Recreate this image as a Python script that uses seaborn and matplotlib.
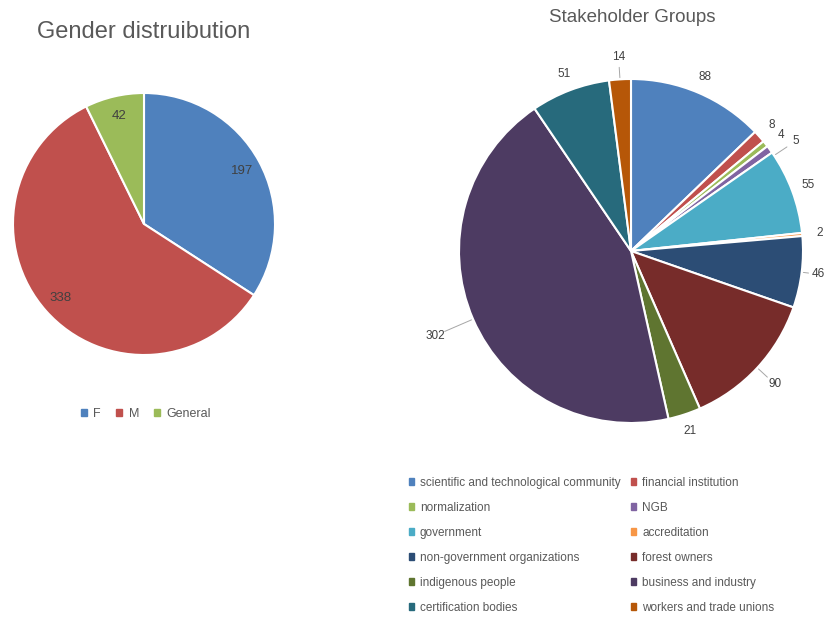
import numpy as np
import seaborn as sns
import matplotlib.pyplot as plt
from matplotlib.patches import Patch

# -----------------------------
# Data
# -----------------------------
gender_labels = ["F", "M", "General"]
gender_values = [197, 338, 42]
gender_colors = ["#4F81BD", "#C0504D", "#9BBB59"]

groups = [
    "scientific and technological community", "financial institution",
    "normalization", "NGB", "government", "accreditation",
    "non-government organizations", "forest owners", "indigenous people",
    "business and industry", "certification bodies", "workers and trade unions",
]
group_values = [88, 8, 4, 5, 55, 2, 46, 90, 21, 302, 51, 14]
group_colors = [
    "#4F81BD", "#C0504D", "#9BBB59", "#8064A2", "#4BACC6", "#F79646",
    "#2C4D75", "#772C2A", "#5F7530", "#4D3B62", "#276A7C", "#B65708",
]

sns.set_theme(style="white")
plt.rcParams["font.family"] = ["Liberation Sans", "DejaVu Sans"]

W, H = 825, 617
fig = plt.figure(figsize=(W / 100, H / 100), dpi=100)


def pie_axes(cx, cy, r):
    ax = fig.add_axes([(cx - r) / W, (H - cy - r) / H, 2 * r / W, 2 * r / H])
    return ax


# -----------------------------
# Gender pie
# -----------------------------
ax1 = pie_axes(144, 224, 131)
wedges1, _ = ax1.pie(gender_values, colors=gender_colors, startangle=90,
                     counterclock=False,
                     wedgeprops=dict(edgecolor="white", linewidth=1.5))
ax1.set_xlim(-1, 1)
ax1.set_ylim(-1, 1)
ax1.axis("off")
for w, v in zip(wedges1, gender_values):
    ang = np.deg2rad((w.theta1 + w.theta2) / 2)
    ax1.text(0.85 * np.cos(ang), 0.85 * np.sin(ang), str(v),
             ha="center", va="center", fontsize=9.5, color="#404040")

fig.text(144 / W, 1 - 32 / H, "Gender distruibution", ha="center", va="center",
         fontsize=17, color="#595959")
fig.legend([Patch(color=c) for c in gender_colors], gender_labels,
           loc="center", bbox_to_anchor=(146 / W, 1 - 414 / H), ncol=3,
           frameon=False, fontsize=9, handlelength=0.5, handleheight=0.5,
           handletextpad=0.5, columnspacing=1.2, labelcolor="#595959")

# -----------------------------
# Stakeholder pie
# -----------------------------
ax2 = pie_axes(631, 251, 172)
wedges2, _ = ax2.pie(group_values, colors=group_colors, startangle=90,
                     counterclock=False,
                     wedgeprops=dict(edgecolor="white", linewidth=1.5))
ax2.set_xlim(-1, 1)
ax2.set_ylim(-1, 1)
ax2.axis("off")

# labels moved out with a leader line
leader = {"NGB": 1.15, "non-government organizations": 1.1,
          "forest owners": 1.14, "business and industry": 1.24,
          "workers and trade unions": 1.13}
prev = None
for w, v, g in zip(wedges2, group_values, groups):
    mid = (w.theta1 + w.theta2) / 2
    # keep small neighbouring labels apart
    if prev is not None and prev - mid < 4:
        mid = prev - 4
    prev = mid
    ang = np.deg2rad(mid)
    d = leader.get(g, 1.1)
    x, y = d * np.cos(ang), d * np.sin(ang)
    if g in leader:
        ax2.plot([1.01 * np.cos(ang), (d - 0.06) * np.cos(ang)],
                 [1.01 * np.sin(ang), (d - 0.06) * np.sin(ang)],
                 color="#a6a6a6", lw=0.7, clip_on=False)
    ax2.text(x, y, str(v), ha="center", va="center", fontsize=8.5,
             color="#404040", clip_on=False)

fig.text(632 / W, 1 - 18 / H, "Stakeholder Groups", ha="center", va="center",
         fontsize=13.5, color="#595959")

# legend is filled row by row, matplotlib fills columns first
order = list(range(0, 12, 2)) + list(range(1, 12, 2))
handles = [Patch(color=group_colors[i]) for i in order]
fig.legend(handles, [groups[i] for i in order], loc="upper left",
           bbox_to_anchor=(398 / W, 1 - 466 / H), ncol=2, frameon=False,
           fontsize=8.5, handlelength=0.45, handleheight=0.45,
           handletextpad=0.5, columnspacing=0.9, labelspacing=1.1,
           labelcolor="#595959")

fig.savefig("out.png", dpi=100, facecolor="white")
